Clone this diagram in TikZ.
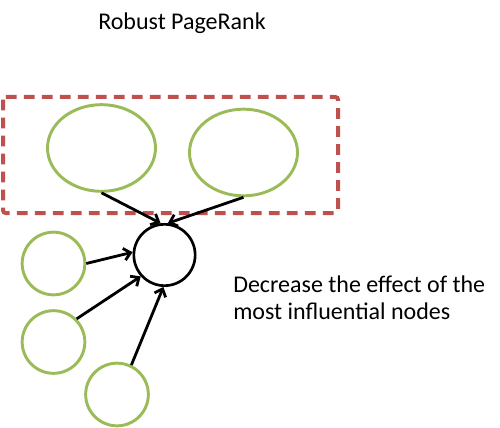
\documentclass[tikz,border=0pt]{standalone}
\usepackage{fontspec}
\setmainfont{Carlito}
\usetikzlibrary{shapes.geometric,arrows.meta}
\definecolor{nodegreen}{HTML}{9BBB59}
\definecolor{boxred}{HTML}{C0504D}
\tikzset{
  px/.style={x=0.75pt,y=-0.75pt},
  gnode/.style={draw=nodegreen,line width=2.2pt,circle,minimum size=47pt,inner sep=0pt},
  gell/.style={draw=nodegreen,line width=2.2pt,ellipse,minimum width=81pt,minimum height=65pt,inner sep=0pt},
  target/.style={draw=black,line width=2pt,circle,minimum size=46pt,inner sep=0pt},
  link/.style={line width=2.1pt,-{Straight Barb[length=5pt,width=9pt]}},
  groupbox/.style={draw=boxred,line width=3pt,dash pattern=on 8pt off 5.5pt,rounded corners=2pt},
  label/.style={font=\fontsize{18}{21}\selectfont,inner sep=0pt}
}
\begin{document}
\begin{tikzpicture}[px]
\useasboundingbox (0,0) rectangle (500,428);
\draw[groupbox] (3,97) rectangle (338,213);
\node[gell] (e1) at (101.5,148) {};
\node[gell] (e2) at (243.5,152.5) {};
\node[target] (c) at (164.5,255) {};
\node[gnode] (a) at (53.5,263.5) {};
\node[gnode] (b) at (53.5,342) {};
\node[gnode] (d) at (117,394.5) {};
\draw[link] (e1.south) -- (c.97);
\draw[link] (e2.south) -- (c.84);
\draw[link] (a.east) -- (c.175);
\draw[link] (b.45) -- (c.222);
\draw[link] (d.64) -- (c.268);
\node[label,anchor=base] (t) at (182,30) {Robust PageRank};
\node[label,anchor=base west] (d1) at (233,292) {Decrease the effect of the};
\node[label,anchor=base west] (d2) at (233,319) {most influential nodes};
\end{tikzpicture}
\end{document}
